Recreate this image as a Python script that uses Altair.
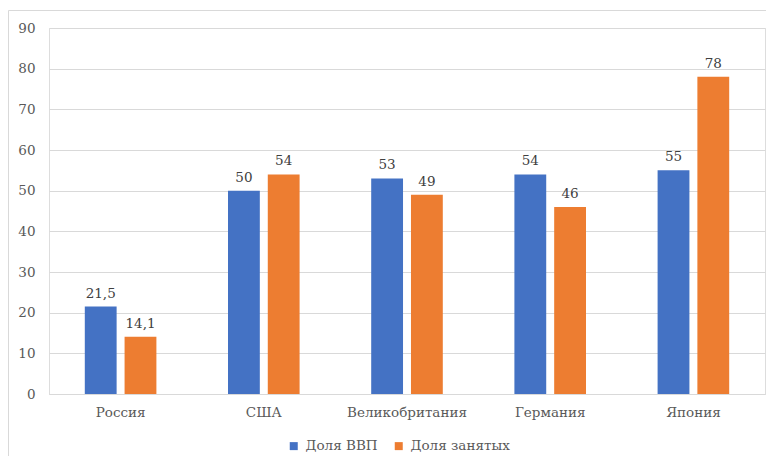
import altair as alt
import pandas as pd

countries = ["Россия", "США", "Великобритания", "Германия", "Япония"]
series = ["Доля ВВП", "Доля занятых"]
gdp_share = [21.5, 50, 53, 54, 55]
emp_share = [14.1, 54, 49, 46, 78]
colors = ["#4472C4", "#ED7D31"]
y_ticks = [0, 10, 20, 30, 40, 50, 60, 70, 80, 90]

rows = []
for c, g, e in zip(countries, gdp_share, emp_share):
    rows.append({"country": c, "series": series[0], "value": g})
    rows.append({"country": c, "series": series[1], "value": e})
df = pd.DataFrame(rows)

FONT = "DejaVu Serif"
FS = 13.5
W, H = 716, 366

x_enc = alt.X(
    "country:N",
    sort=countries,
    scale=alt.Scale(paddingInner=0.5, paddingOuter=0.25),
    axis=alt.Axis(
        title=None, labelAngle=0, ticks=False, domainColor="#d9d9d9",
        labelPadding=11, labelFontSize=FS, labelFont=FONT, labelColor="#595959",
    ),
)
xoff = alt.XOffset("series:N", sort=series, scale=alt.Scale(paddingInner=0.2))
y_enc = alt.Y(
    "value:Q",
    scale=alt.Scale(domain=[0, 90], nice=False),
    axis=alt.Axis(
        title=None, values=y_ticks, domain=False, ticks=False, gridColor="#d9d9d9",
        labelPadding=14, labelFontSize=FS, labelFont=FONT, labelColor="#595959",
    ),
)

base = alt.Chart(df).encode(x=x_enc, xOffset=xoff)

bars = base.mark_bar().encode(
    y=y_enc,
    color=alt.Color(
        "series:N",
        sort=series,
        scale=alt.Scale(domain=series, range=colors),
        legend=alt.Legend(
            title=None, orient="none", direction="horizontal",
            legendX=238, legendY=411, symbolType="square", symbolSize=64,
            symbolStrokeWidth=0, labelFont=FONT, labelFontSize=FS,
            labelColor="#595959", columnPadding=14, labelOffset=5,
        ),
    ),
)

labels = base.transform_calculate(
    lbl="replace(toString(datum.value), '.', ',')"
).mark_text(
    dy=-9, baseline="alphabetic", font=FONT, fontSize=FS, color="#404040"
).encode(
    y=alt.Y("value:Q", scale=alt.Scale(domain=[0, 90], nice=False)),
    text="lbl:N",
)

frame = alt.Chart(pd.DataFrame({"a": [0]})).mark_rect(
    fill=None, stroke="#d9d9d9", strokeWidth=1, clip=False
).encode(
    x=alt.value(-40.5), x2=alt.value(760), y=alt.value(-17.5), y2=alt.value(470)
)

chart = alt.layer(frame, bars, labels).properties(
    width=W, height=H,
    autosize=alt.AutoSizeParams(type="none"),
    padding={"left": 41, "top": 20, "right": 1, "bottom": 62},
).configure_view(stroke=None).configure(background="white", font=FONT)

chart.save("out.html", embed_options={"renderer": "svg", "actions": False})
